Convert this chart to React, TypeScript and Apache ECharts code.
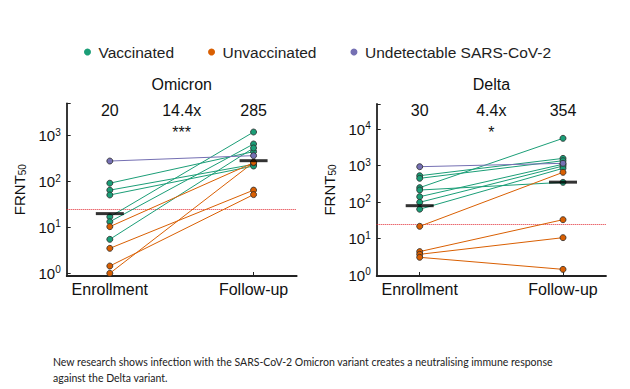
import React, { useEffect, useRef } from 'react';
import * as echarts from 'echarts';

// ---------- data ----------
const groups = ['Vaccinated', 'Unvaccinated', 'Undetectable SARS-CoV-2'];
const timepoints = ['Enrollment', 'Follow-up'];
const threshold = 25;

// Omicron panel
const omiVaxEnroll = [92, 65, 51, 17, 13.3, 5.5];
const omiVaxFollow = [449, 237, 218, 1202, 659, 540];
const omiUnvaxEnroll = [10.4, 3.5, 1.44, 1.0];
const omiUnvaxFollow = [258, 65, 52, 262];
const omiUndetEnroll = [280];
const omiUndetFollow = [367];
const omiMedian = [20, 285];
const omiTopLabels = ['20', '14.4x', '285'];
const omiSig = '***';

// Delta panel
const delVaxEnroll = [532, 451, 250, 215, 141, 99, 64];
const delVaxFollow = [1590, 1371, 5650, 350, 1100, 982, 849];
const delUnvaxEnroll = [21.7, 4.4, 3.7, 3.06];
const delUnvaxFollow = [659, 33, 10.6, 1.43];
const delUndetEnroll = [940];
const delUndetFollow = [1164];
const delMedian = [80, 354];
const delTopLabels = ['30', '4.4x', '354'];
const delSig = '*';

const panelTitles = ['Omicron', 'Delta'];
const caption =
  'New research shows infection with the SARS-CoV-2 Omicron variant creates a neutralising immune response\nagainst the Delta variant.';

// ---------- style / layout ----------
const colors = ['#1b9e77', '#d95f02', '#7570b3'];
const FONT = '"Liberation Sans", Arial, sans-serif';
const ink = '#111';
const grids = [
  { left: 66.7, top: 103.3, width: 230, height: 172.7, ymin: Math.pow(10, -0.059), ymax: Math.pow(10, 3.706) },
  { left: 376.7, top: 104, width: 229.3, height: 172, ymin: Math.pow(10, -0.027), ymax: Math.pow(10, 4.694) },
];
const XMIN = -0.3;
const XMAX = 1.3;
const xPix = (g: any, v: number) => g.left + ((v - XMIN) / (XMAX - XMIN)) * g.width;

function pairSeries(panel: number, gi: number, enroll: number[], follow: number[]) {
  return enroll.map((e, i) => ({
    type: 'line',
    name: groups[gi],
    xAxisIndex: panel,
    yAxisIndex: panel,
    data: [
      [0, e],
      [1, follow[i]],
    ],
    symbol: 'circle',
    symbolSize: 6,
    showSymbol: true,
    lineStyle: { color: colors[gi], width: 1 },
    itemStyle: { color: colors[gi], borderColor: '#2a2a2a', borderWidth: 0.8 },
    emphasis: { disabled: true },
    z: 3,
  }));
}

function medianSeries(panel: number, med: number[]) {
  return {
    type: 'scatter',
    xAxisIndex: panel,
    yAxisIndex: panel,
    data: [
      [0, med[0]],
      [1, med[1]],
    ],
    symbol: 'rect',
    symbolSize: [28, 3],
    itemStyle: { color: '#000' },
    z: 5,
    silent: true,
    markLine: {
      silent: true,
      symbol: 'none',
      label: { show: false },
      lineStyle: { color: '#e0262f', type: 'dotted', width: 1 },
      data: [{ yAxis: threshold }],
      z: 2,
    },
  };
}

const yLabelFormatter = (v: number) => {
  const l = Math.log10(v);
  const e = Math.round(l);
  if (Math.abs(l - e) > 1e-6) return '';
  return '10{s|' + e + '}';
};

const option: any = {
  animation: false,
  textStyle: { fontFamily: FONT },
  legend: {
    left: 79,
    top: 39,
    icon: 'circle',
    itemWidth: 12,
    itemHeight: 7,
    itemGap: 34,
    textStyle: { fontSize: 15.5, color: '#222', fontFamily: FONT },
    data: groups.map((g, i) => ({ name: g, itemStyle: { color: colors[i], borderWidth: 0 } })),
  },
  grid: grids.map((g) => ({ left: g.left, top: g.top, width: g.width, height: g.height })),
  xAxis: grids.map((g, i) => ({
    gridIndex: i,
    type: 'value',
    min: XMIN,
    max: XMAX,
    splitLine: { show: false },
    axisLine: { onZero: false, lineStyle: { color: '#222', width: 1.8 } },
    axisTick: { inside: true, length: 4, customValues: [0, 1], lineStyle: { color: '#222', width: 1 } },
    axisLabel: {
      customValues: [0, 1],
      formatter: (v: number) => timepoints[Math.round(v)],
      fontSize: 16,
      color: ink,
      margin: 5,
      fontFamily: FONT,
    },
  })),
  yAxis: grids.map((g, i) => ({
    gridIndex: i,
    type: 'log',
    logBase: 10,
    min: g.ymin,
    max: g.ymax,
    splitLine: { show: false },
    axisLine: { show: true, onZero: false, lineStyle: { color: '#222', width: 1.8 } },
    axisTick: { show: true, inside: true, length: 4, lineStyle: { color: '#222', width: 1 } },
    axisLabel: {
      formatter: yLabelFormatter,
      fontSize: 15,
      color: ink,
      margin: 6,
      fontFamily: FONT,
      rich: { s: { fontSize: 10, verticalAlign: 'top', color: ink, fontFamily: FONT, padding: [0, 0, 7, 0] } },
    },
    name: 'FRNT{sub|50}',
    nameLocation: 'middle',
    nameGap: 39,
    nameTextStyle: {
      fontSize: 15,
      color: ink,
      fontFamily: FONT,
      rich: { sub: { fontSize: 10, verticalAlign: 'bottom', color: ink, fontFamily: FONT, padding: [6, 0, 0, 0] } },
    },
  })),
  series: [
    ...pairSeries(0, 0, omiVaxEnroll, omiVaxFollow),
    ...pairSeries(0, 1, omiUnvaxEnroll, omiUnvaxFollow),
    ...pairSeries(0, 2, omiUndetEnroll, omiUndetFollow),
    medianSeries(0, omiMedian),
    ...pairSeries(1, 0, delVaxEnroll, delVaxFollow),
    ...pairSeries(1, 1, delUnvaxEnroll, delUnvaxFollow),
    ...pairSeries(1, 2, delUndetEnroll, delUndetFollow),
    medianSeries(1, delMedian),
  ],
  graphic: [
    ...grids.flatMap((g, i) => {
      const tl = i === 0 ? omiTopLabels : delTopLabels;
      const sig = i === 0 ? omiSig : delSig;
      const cx = xPix(g, 0.5);
      return [
        { type: 'text', x: cx, y: 84, style: { text: panelTitles[i], fontSize: 16, fill: ink, fontFamily: FONT, align: 'center', verticalAlign: 'middle' } },
        { type: 'text', x: xPix(g, 0), y: 110, style: { text: tl[0], fontSize: 16, fill: ink, fontFamily: FONT, align: 'center', verticalAlign: 'middle' } },
        { type: 'text', x: cx, y: 110, style: { text: tl[1], fontSize: 16, fill: ink, fontFamily: FONT, align: 'center', verticalAlign: 'middle' } },
        { type: 'text', x: xPix(g, 1), y: 110, style: { text: tl[2], fontSize: 16, fill: ink, fontFamily: FONT, align: 'center', verticalAlign: 'middle' } },
        { type: 'text', x: cx, y: 132, style: { text: sig, fontSize: 16, fill: ink, fontFamily: FONT, align: 'center', verticalAlign: 'middle' } },
      ];
    }),
    {
      type: 'text',
      x: 53,
      y: 353.5,
      style: { text: caption, fontSize: 10.5, lineHeight: 16, fill: '#222', fontFamily: 'Lato, "Open Sans", sans-serif', align: 'left', verticalAlign: 'top' },
    },
  ],
};

export default function App() {
  const ref = useRef<HTMLDivElement>(null);
  useEffect(() => {
    document.body.style.margin = '0';
    const chart = echarts.init(ref.current as HTMLDivElement, null, { renderer: 'svg' });
    chart.setOption(option);
    return () => chart.dispose();
  }, []);
  return <div ref={ref} style={{ width: 630, height: 389 }} />;
}
